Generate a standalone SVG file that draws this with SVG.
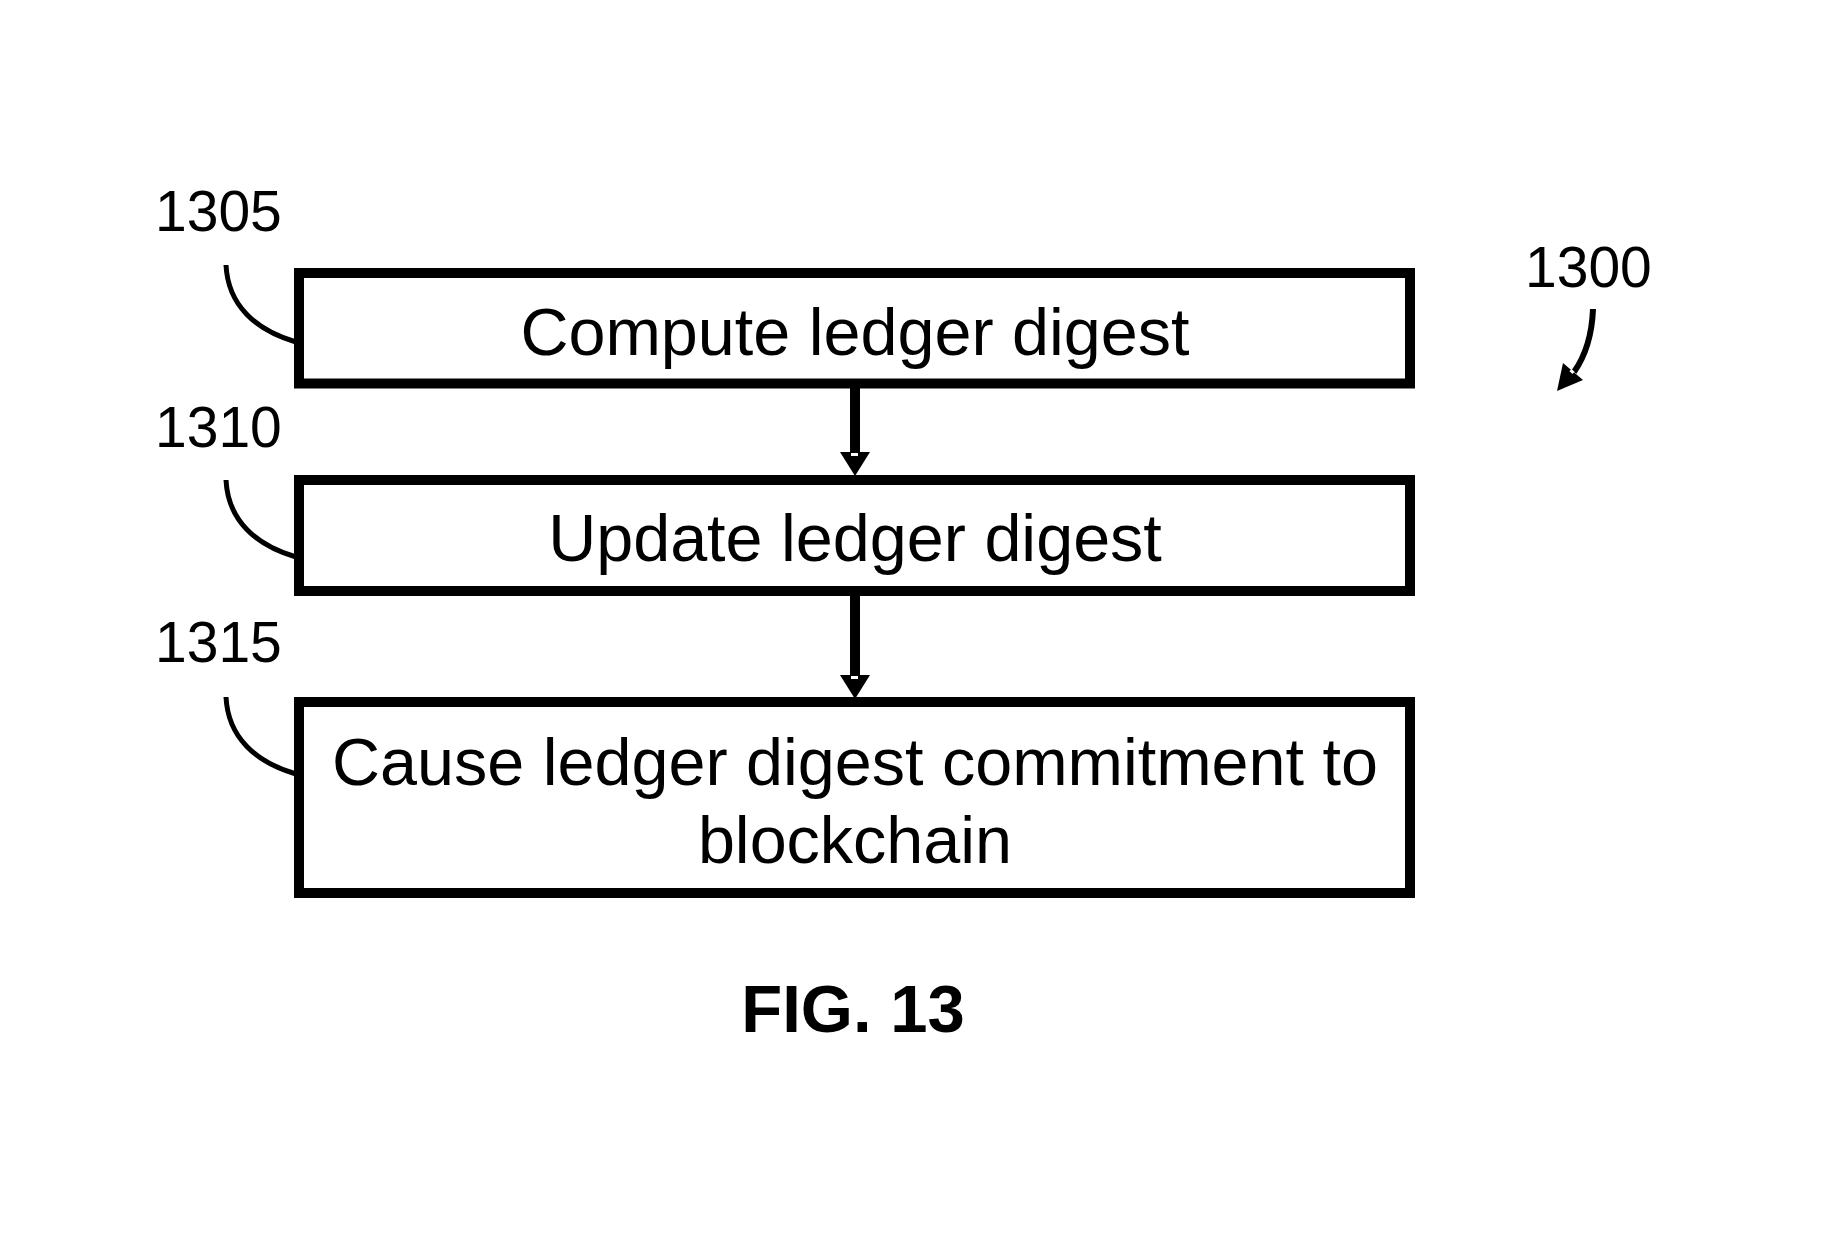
<svg xmlns="http://www.w3.org/2000/svg" width="1829" height="1247" viewBox="0 0 1829 1247">
  <style>
    .box { fill: #ffffff; stroke: #000000; stroke-width: 10; }
    .label { font-family: "Liberation Sans", Arial, sans-serif; font-size: 66.5px; fill: #000000; text-anchor: middle; }
    .ref { font-family: "Liberation Sans", Arial, sans-serif; font-size: 57px; fill: #000000; }
    .leader { fill: none; stroke: #000000; stroke-width: 5; }
    .shaft { fill: none; stroke: #000000; stroke-width: 10; }
    .head { fill: #000000; }
    .notch { fill: #ffffff; }
    .fig { font-family: "Liberation Sans", Arial, sans-serif; font-size: 67px; font-weight: bold; fill: #000000; text-anchor: middle; }
  </style>
  <rect width="1829" height="1247" fill="#ffffff"/>

  <!-- flow arrows between steps -->
  <g id="connectors">
    <line class="shaft" x1="855" y1="388" x2="855" y2="454"/>
    <polygon class="head" points="840,452 870,452 855,476"/>
    <rect class="notch" x="851" y="453" width="7" height="3"/>

    <line class="shaft" x1="855" y1="596" x2="855" y2="677"/>
    <polygon class="head" points="840,675 870,675 855,699"/>
    <rect class="notch" x="851" y="676" width="7" height="3"/>

    <!-- reference leaders -->
    <path class="leader" d="M226,265 C228,305 255,330 296,342"/>
    <path class="leader" d="M226,480 C228,520 255,545 296,557"/>
    <path class="leader" d="M226,697 C228,737 255,762 296,774"/>

    <!-- figure pointer for 1300 -->
    <path d="M1593,309 C1592,335 1586,355 1574,372" fill="none" stroke="#000000" stroke-width="6"/>
    <polygon class="head" points="1563,363 1583,380 1557,391"/>
    <rect class="notch" x="1570" y="370" width="4" height="3" transform="rotate(40 1572 371.5)"/>
  </g>

  <g id="step-1305">
    <rect class="box" x="299" y="273" width="1111" height="110.5"/>
    <text class="label" x="855" y="355">Compute ledger digest</text>
    <text class="ref" x="155" y="230.5">1305</text>
  </g>

  <g id="step-1310">
    <rect class="box" x="299" y="480" width="1111" height="111"/>
    <text class="label" x="855" y="561">Update ledger digest</text>
    <text class="ref" x="155" y="446.5">1310</text>
  </g>

  <g id="step-1315">
    <rect class="box" x="299" y="702" width="1111" height="191"/>
    <text class="label" x="855" y="785">Cause ledger digest commitment to</text>
    <text class="label" x="855" y="863">blockchain</text>
    <text class="ref" x="155" y="662">1315</text>
  </g>

  <g id="figure-ref">
    <text class="ref" x="1525" y="287">1300</text>
  </g>

  <text class="fig" x="853" y="1032">FIG. 13</text>
</svg>
